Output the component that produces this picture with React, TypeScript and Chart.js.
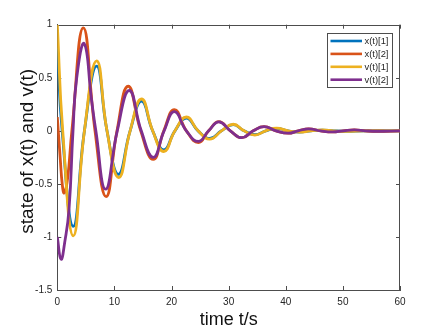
import React, { useEffect, useRef } from "react";
import { Chart, registerables } from "chart.js";

Chart.register(...registerables);

// ---- data ----
const x1T = [0, 0.85, 2.8, 4.75, 6.89, 8.7, 10.7, 12.75, 14.75, 16.7, 18.65, 20.6, 22.6, 24.65, 26.7, 28.75, 30.8, 32.7, 34.6, 36.5, 38.4, 40.4, 42.4, 44.4, 46.4, 48.4, 50.4, 54, 60];
const x1V = [0.78, 0, -0.9, 0, 0.61, 0, -0.41, 0, 0.28, 0, -0.18, 0, 0.12, 0, -0.072, 0, 0.058, 0, -0.036, 0, 0.023, 0, -0.011, 0, 0.007, 0, -0.004, 0, 0];

const x2T = [0, 0.5, 0.9, 1.22, 1.8, 2.55, 4.55, 6.6, 8.55, 10.45, 12.4, 14.6, 16.8, 18.65, 20.5, 22.6, 24.7, 26.5, 28.3, 30.3, 32.3, 34.3, 36.2, 38.3, 40.4, 42.2, 44.0, 46.1, 48.2, 50.1, 52, 54, 56, 60];
const x2V = [0.13, -0.25, -0.52, -0.585, -0.45, 0, 0.97, 0, -0.62, 0, 0.42, 0, -0.27, 0, 0.2, 0, -0.11, 0, 0.087, 0, -0.065, 0, 0.04, 0, -0.022, 0, 0.019, 0, -0.01, 0, 0.008, 0, -0.004, 0];

const v1T = [0, 0.95, 2.8, 4.75, 6.89, 8.7, 10.75, 12.75, 14.75, 16.7, 18.65, 20.6, 22.6, 24.65, 26.7, 28.75, 30.8, 32.7, 34.6, 36.5, 38.4, 40.4, 42.4, 44.4, 46.4, 48.4, 50.4, 54, 60];
const v1V = [1, 0, -0.99, 0, 0.66, 0, -0.44, 0, 0.3, 0, -0.195, 0, 0.13, 0, -0.078, 0, 0.062, 0, -0.04, 0, 0.025, 0, -0.012, 0, 0.008, 0, -0.005, 0, 0];

const v2T = [0, 0.65, 1.3, 2.05, 2.75, 3.4, 4.72, 6.0, 6.75, 8.45, 10.5, 12.6, 14.7, 16.8, 18.7, 20.5, 22.6, 24.7, 26.5, 28.3, 30.3, 32.3, 34.3, 36.2, 38.3, 40.4, 42.2, 44.0, 46.1, 48.2, 50.1, 52, 54, 56, 60];
const v2V = [-1.0, -1.21, -1.05, -0.74, 0, 0.5, 0.82, 0.29, 0, -0.55, 0, 0.38, 0, -0.25, 0, 0.18, 0, -0.1, 0, 0.085, 0, -0.065, 0, 0.04, 0, -0.022, 0, 0.019, 0, -0.01, 0, 0.008, 0, -0.004, 0];

const seriesLabels = ["x(t)[1]", "x(t)[2]", "v(t)[1]", "v(t)[2]"];
const seriesColors = ["#0072BD", "#D95319", "#EDB120", "#7E2F8E"];

const xMin = 0, xMax = 60, xStep = 10;
const yMin = -1.5, yMax = 1, yStep = 0.5;
const xTitle = "time t/s";
const yTitle = "state of x(t) and v(t)";

const AXIS = "#4d4d4d";
const TEXT = "#262626";
const FONT = "'Liberation Sans', Arial, Helvetica, sans-serif";

const toPts = (t: number[], v: number[]) => t.map((tt, i) => ({ x: tt, y: v[i] }));

const boxPlugin = {
  id: "matlabBox",
  beforeDatasetsDraw(chart: any) {
    const { ctx, chartArea: a, scales } = chart;
    const L = 4;
    ctx.save();
    ctx.strokeStyle = AXIS;
    ctx.lineWidth = 1;
    ctx.beginPath();
    ctx.moveTo(a.left, Math.round(a.top) + 0.5);
    ctx.lineTo(a.right, Math.round(a.top) + 0.5);
    ctx.moveTo(Math.round(a.right) - 0.5, a.top);
    ctx.lineTo(Math.round(a.right) - 0.5, a.bottom);
    for (const t of scales.x.ticks) {
      const px = Math.round(scales.x.getPixelForValue(t.value)) + 0.5;
      ctx.moveTo(px, a.bottom);
      ctx.lineTo(px, a.bottom - L);
      ctx.moveTo(px, a.top);
      ctx.lineTo(px, a.top + L);
    }
    for (const t of scales.y.ticks) {
      const py = Math.round(scales.y.getPixelForValue(t.value)) + 0.5;
      ctx.moveTo(a.left, py);
      ctx.lineTo(a.left + L, py);
      ctx.moveTo(a.right, py);
      ctx.lineTo(a.right - L, py);
    }
    ctx.stroke();
    ctx.restore();
  },
  afterDraw(chart: any) {
    const { ctx, chartArea: a } = chart;
    // y axis title
    ctx.save();
    ctx.translate(33, (a.top + a.bottom) / 2 - 6);
    ctx.rotate(-Math.PI / 2);
    ctx.font = `19px ${FONT}`;
    ctx.fillStyle = "#111";
    ctx.textAlign = "center";
    ctx.textBaseline = "alphabetic";
    ctx.fillText(yTitle, 0, 0);
    ctx.restore();

    // legend
    const bw = 65, bh = 54;
    const bx = Math.round(a.right - 73.3);
    const by = Math.round(a.top + 8);
    ctx.save();
    ctx.fillStyle = "#ffffff";
    ctx.fillRect(bx, by, bw, bh);
    ctx.strokeStyle = AXIS;
    ctx.lineWidth = 1;
    ctx.strokeRect(bx + 0.5, by + 0.5, bw, bh);
    ctx.font = `9.4px ${FONT}`;
    ctx.textBaseline = "middle";
    ctx.textAlign = "left";
    chart.data.datasets.forEach((ds: any, i: number) => {
      const y = by + 8 + i * 12.9;
      ctx.strokeStyle = ds.borderColor;
      ctx.lineWidth = 2.6;
      ctx.beginPath();
      ctx.moveTo(bx + 3.5, y);
      ctx.lineTo(bx + 35, y);
      ctx.stroke();
      ctx.fillStyle = TEXT;
      ctx.fillText(ds.label, bx + 37.5, y + 0.5);
    });
    ctx.restore();
  },
};

export default function App() {
  const ref = useRef<HTMLCanvasElement>(null);
  useEffect(() => {
    if (!ref.current) return;
    const series = [toPts(x1T, x1V), toPts(x2T, x2V), toPts(v1T, v1V), toPts(v2T, v2V)];
    const chart = new Chart(ref.current, {
      type: "line",
      data: {
        datasets: series.map((d, i) => ({
          label: seriesLabels[i],
          data: d,
          borderColor: seriesColors[i],
          backgroundColor: seriesColors[i],
          borderWidth: 2.8,
          pointRadius: 0,
          tension: 0.48,
          fill: false,
          order: 4 - i,
        })),
      },
      options: {
        animation: false,
        responsive: false,
        events: [],
        layout: { padding: { top: 24.7, right: 42, left: 0, bottom: 0 } },
        plugins: { legend: { display: false }, tooltip: { enabled: false } },
        scales: {
          x: {
            type: "linear",
            min: xMin,
            max: xMax,
            grid: { display: false, drawTicks: false },
            border: { display: true, color: AXIS, width: 1 },
            ticks: {
              stepSize: xStep,
              padding: 6,
              color: TEXT,
              font: { size: 10, family: FONT },
              maxRotation: 0,
            },
            title: {
              display: true,
              text: xTitle,
              color: "#111",
              font: { size: 18, family: FONT },
              padding: { top: 0, bottom: 0 },
            },
            afterFit: (s: any) => { s.height = 41; },
          },
          y: {
            type: "linear",
            min: yMin,
            max: yMax,
            grid: { display: false, drawTicks: false },
            border: { display: true, color: AXIS, width: 1 },
            ticks: {
              stepSize: yStep,
              padding: 5,
              color: TEXT,
              font: { size: 10, family: FONT },
              callback: (v: any) => String(v),
            },
            title: { display: false, text: yTitle },
            afterFit: (s: any) => { s.width = 57.3; },
          },
        },
      },
      plugins: [boxPlugin],
    });
    return () => chart.destroy();
  }, []);
  return (
    <div style={{ position: "fixed", left: 0, top: 0, width: 442, height: 331, background: "#fff" }}>
      <canvas ref={ref} width={442} height={331} style={{ display: "block" }} />
    </div>
  );
}
